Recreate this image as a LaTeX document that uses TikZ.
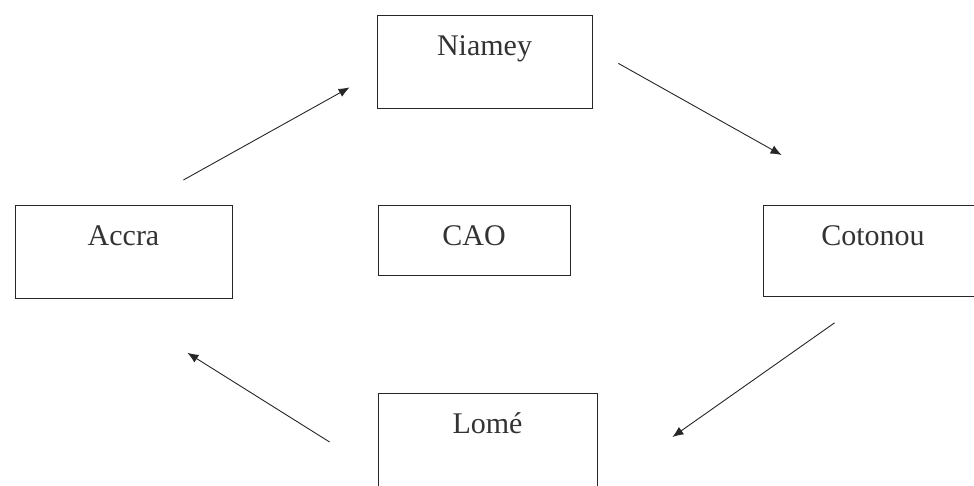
\documentclass[tikz,border=0pt]{standalone}
\usepackage{fontspec}
\setmainfont{Liberation Serif}
\usetikzlibrary{%
	calc,%
	arrows.meta
}

\begin{document}
\begin{tikzpicture}[x=1pt,y=-1pt,
		city/.style={draw=black!85, line width=0.8pt, inner sep=0pt, text height=40pt,
			font=\fontsize{30}{35}\selectfont, text=black!80},
		route/.style={draw=black!85, line width=0.9pt, -{Latex[length=11pt,width=9pt]}}]
		\clip (0,0) rectangle (974,485);
		\node[city, minimum width=215pt, text depth=53pt] (N) at (484.5,15) [anchor=north] {Niamey};
		\node[city, minimum width=217pt, text depth=53pt] (A) at (123.5,205) [anchor=north] {Accra};
		\node[city, minimum width=192pt, text depth=30pt] (C) at (474,205) [anchor=north] {CAO};
		\node[city, minimum width=220pt, text depth=51pt] (K) at (873,205) [anchor=north] {Cotonou};
		\node[city, minimum width=219pt, text depth=67pt] (L) at (487.5,393) [anchor=north] {Lomé};
		\draw[route] ([shift={(-49,-25)}]A.north east) -- ([shift={(-27,25.5)}]N.west);
		\draw[route] ([shift={(26,1.5)}]N.east) -- ([shift={(19,-50)}]K.north west);
		\draw[route] ([shift={(72,26)}]K.south west) -- ([shift={(75,44)}]L.north east);
		\draw[route] ([shift={(-48,49)}]L.north west) -- ([shift={(-45,54)}]A.south east);
	\end{tikzpicture}
\end{document}
